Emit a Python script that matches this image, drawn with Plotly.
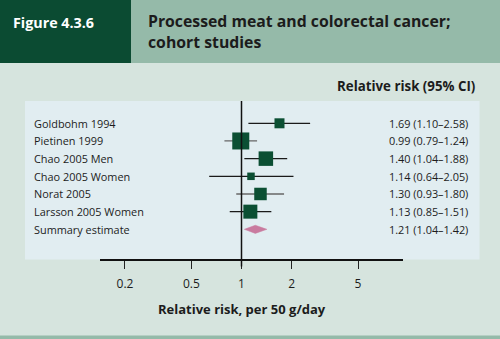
import plotly.graph_objects as go
import math

studies = ["Goldbohm 1994", "Pietinen 1999", "Chao 2005 Men", "Chao 2005 Women",
           "Norat 2005", "Larsson 2005 Women"]
rr = [1.69, 0.99, 1.40, 1.14, 1.30, 1.13]
lo = [1.10, 0.79, 1.04, 0.64, 0.93, 0.85]
hi = [2.58, 1.24, 1.88, 2.05, 1.80, 1.51]
weights = [10, 17, 14.5, 7.5, 12.5, 14]   # marker size (study weight)
ci_colors = ["#1a1a1a", "#666666", "#1a1a1a", "#1a1a1a", "#666666", "#1a1a1a"]
ci_text = ["1.69 (1.10–2.58)", "0.99 (0.79–1.24)", "1.40 (1.04–1.88)",
           "1.14 (0.64–2.05)", "1.30 (0.93–1.80)", "1.13 (0.85–1.51)"]
summary_label = "Summary estimate"
summary = [1.21, 1.04, 1.42]
summary_text = "1.21 (1.04–1.42)"
tick_vals = [0.2, 0.5, 1, 2, 5]
tick_text = ["0.2", "0.5", "1", "2", "5"]

DARK = "#0b4b32"
HEAD = "#95baa9"
PALE = "#d6e4de"
PANEL = "#e1edf1"
SQ = "#0b4f33"
PINK = "#c97b9f"
FONT = "Open Sans"

# pixel geometry helpers (plot area: x 100..403, y 101..259)
L, R, T, B = 100, 403, 101, 259
W, H = 500, 339
def px(x):
    return (x - L) / (R - L)
def py(y):
    return (B - y) / (B - T)

fig = go.Figure()

# CI lines
for i in range(len(studies)):
    fig.add_trace(go.Scatter(x=[lo[i], hi[i]], y=[i, i], mode="lines",
                             line=dict(color=ci_colors[i], width=1.3),
                             hoverinfo="skip", showlegend=False))
# squares
fig.add_trace(go.Scatter(x=rr, y=list(range(len(studies))), mode="markers",
                         marker=dict(symbol="square", size=weights, color=SQ,
                                     opacity=1, line=dict(width=0)),
                         showlegend=False))
# summary diamond
n = len(studies)
h = 0.23
fig.add_trace(go.Scatter(x=[summary[1], summary[0], summary[2], summary[0], summary[1]],
                         y=[n, n - h, n, n + h, n], mode="lines", fill="toself",
                         fillcolor=PINK, line=dict(color=PINK, width=0.5),
                         showlegend=False))

shapes = [
    # header boxes
    dict(type="rect", xref="paper", yref="paper", x0=px(0), x1=px(131), y0=py(63), y1=py(0),
         fillcolor=DARK, line=dict(width=0), layer="below"),
    dict(type="rect", xref="paper", yref="paper", x0=px(131), x1=px(W), y0=py(63), y1=py(0),
         fillcolor=HEAD, line=dict(width=0), layer="below"),
    # bottom strip
    dict(type="rect", xref="paper", yref="paper", x0=px(0), x1=px(W), y0=py(H), y1=py(335.5),
         fillcolor=HEAD, line=dict(width=0), layer="below"),
    # panel
    dict(type="rect", xref="paper", yref="paper", x0=px(25), x1=px(479.5), y0=py(259.5), y1=py(101),
         fillcolor=PANEL, line=dict(width=0), layer="below"),
    # null line
    dict(type="line", xref="x", yref="paper", x0=1, x1=1, y0=py(266.5), y1=py(101),
         line=dict(color="#111111", width=1.5)),
]

ann = []
ann.append(dict(text="<b>Figure 4.3.6</b>", xref="paper", yref="paper", x=px(11), y=py(22),
                xanchor="left", yanchor="middle", showarrow=False,
                font=dict(family=FONT, size=14.3, color="white")))
ann.append(dict(text="<b>Processed meat and colorectal cancer;<br>cohort studies</b>",
                xref="paper", yref="paper", x=px(146), y=py(32), xanchor="left", yanchor="middle",
                align="left", showarrow=False,
                font=dict(family=FONT, size=15.8, color="#1c1c1c")))
ann.append(dict(text="<b>Relative risk (95% CI)</b>", xref="paper", yref="paper",
                x=px(477), y=py(86), xanchor="right", yanchor="middle", showarrow=False,
                font=dict(family=FONT, size=13.3, color="#1c1c1c")))
for i, s in enumerate(studies + [summary_label]):
    ann.append(dict(text=s, xref="paper", yref="y", x=px(32), y=i, xanchor="left",
                    yanchor="middle", showarrow=False,
                    font=dict(family=FONT, size=10.9, color="#1c1c1c")))
for i, s in enumerate(ci_text + [summary_text]):
    ann.append(dict(text=s, xref="paper", yref="y", x=px(387), y=i, xanchor="left",
                    yanchor="middle", showarrow=False,
                    font=dict(family=FONT, size=10.9, color="#1c1c1c")))
ann.append(dict(text="<b>Relative risk, per 50 g/day</b>", xref="x", yref="paper",
                x=0, y=py(309), xanchor="center", yanchor="middle", showarrow=False,
                font=dict(family=FONT, size=13, color="#1c1c1c")))

x0l = (L - 241.5) / 166.7
x1l = (R - 241.5) / 166.7
y_top = (T - 123.3) / 17.67
y_bot = (B - 123.3) / 17.67

fig.update_layout(
    width=W, height=H,
    margin=dict(l=L, r=W - R, t=T, b=H - B, pad=0),
    paper_bgcolor=PALE, plot_bgcolor="rgba(0,0,0,0)",
    shapes=shapes, annotations=ann, showlegend=False,
    xaxis=dict(type="log", range=[x0l, x1l], tickvals=tick_vals, ticktext=tick_text,
               showgrid=False, zeroline=False, showline=True, linecolor="#111111",
               linewidth=2, ticks="outside", ticklen=8, tickwidth=1.3, tickcolor="#222222",
               ticklabelstandoff=5,
               tickfont=dict(family=FONT, size=12, color="#1c1c1c"), fixedrange=True),
    yaxis=dict(range=[y_bot, y_top], visible=False, showgrid=False, zeroline=False,
               fixedrange=True),
    font=dict(family=FONT),
)

fig.write_html("out.html")
